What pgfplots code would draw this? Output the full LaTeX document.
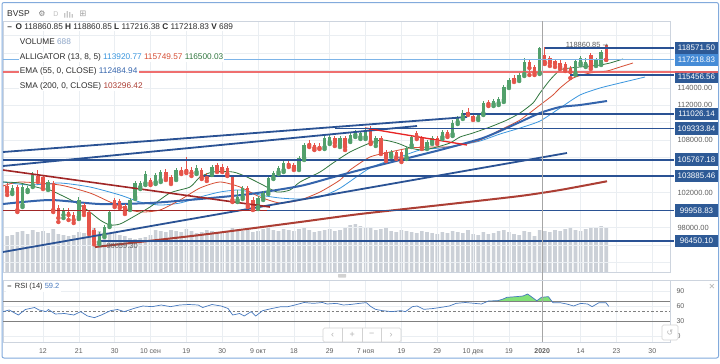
\documentclass[border=0pt]{standalone}
\usepackage{pgfplots}
\pgfplotsset{compat=1.18}
\usepackage{pgfplotstable}
\usepackage{fontspec}
\setmainfont{Liberation Sans}
\newfontfamily\dejavu{DejaVu Sans}

\definecolor{gridc}{RGB}{234,238,242}
\definecolor{bordc}{RGB}{205,212,222}
\definecolor{framec}{RGB}{130,170,220}
\definecolor{volc}{RGB}{203,208,215}
\definecolor{upc}{RGB}{82,160,108}
\definecolor{dnc}{RGB}{230,84,74}
\definecolor{tlc}{RGB}{42,82,148}
\definecolor{boxc}{RGB}{46,90,150}
\definecolor{boxl}{RGB}{70,140,215}
\definecolor{curc}{RGB}{125,180,232}
\definecolor{emac}{RGB}{52,100,172}
\definecolor{smac}{RGB}{172,62,52}
\definecolor{jawc}{RGB}{58,150,222}
\definecolor{teethc}{RGB}{214,78,52}
\definecolor{lipsc}{RGB}{48,118,62}
\definecolor{dredc}{RGB}{160,38,38}
\definecolor{bredc}{RGB}{232,36,36}
\definecolor{pinkc}{RGB}{238,96,96}
\definecolor{txtc}{RGB}{45,45,45}
\definecolor{labc}{RGB}{95,95,95}
\definecolor{volt}{RGB}{140,165,200}
\definecolor{rsic}{RGB}{70,120,190}
\definecolor{rsifill}{RGB}{130,225,120}

\pgfplotstableread{
i o h l c
-6 102064 102866 101834 102522
-4 100573 102981 100344 102637
-3 102293 102751 102064 102522
-2 102866 104356 102637 104012
1 102522 103439 102293 103210
4 99427 100229 99083 99886
7 99198 101490 98968 101147
11 96332 97478 96102 97134
12 97134 98281 96905 98051
13 98281 100000 98051 99771
17 100229 101376 100000 101147
18 101490 103325 101261 103095
19 102637 103325 102408 103095
20 103095 104471 102866 104127
22 103210 104242 102981 104012
23 103439 104586 103210 104356
26 103669 104815 103439 104586
30 104356 105159 104127 104815
33 104242 105159 104012 104930
38 101147 102293 100917 101490
39 101490 102751 101261 102522
42 100344 101605 100115 101376
43 101376 102178 101147 101949
44 102064 103898 101834 103669
45 103783 104471 103554 104242
46 104356 105044 104127 104815
47 104586 105617 104356 105388
50 104815 106191 104586 105961
51 105961 107681 105732 107452
55 107222 108483 106993 108254
56 107795 108598 107566 108369
58 107452 108483 107222 108254
60 108025 108827 107795 108598
61 108598 109171 108369 108942
62 108369 109056 108139 108827
63 108369 109400 108139 109171
65 107681 108483 107337 108254
68 106305 106878 106076 106649
71 106076 107337 105847 107108
72 107452 108598 107222 108369
75 107222 108025 106993 107795
76 107795 108483 107566 108254
78 108369 109171 108139 108942
80 108713 110317 108483 109974
81 110088 110776 109859 110547
82 110661 111464 110432 111120
85 110547 111120 110317 110891
86 111120 112496 110891 112266
88 112152 112725 111922 112496
89 112266 112954 112037 112725
90 112610 114330 112381 114100
91 114215 115132 113986 114903
93 115018 115705 114788 115476
94 115591 117425 115362 116967
97 115705 118650 115591 118572
104 115705 117310 115476 117081
105 116852 117654 116623 117425
106 116623 117425 116393 116967
108 116737 117425 116508 117196
109 116852 118342 116623 118113
}\greentab

\pgfplotstableread{
i o h l c
-7 102751 103095 101720 102064
-5 102637 102866 99771 100000
-1 103898 104586 103210 103439
0 103783 104012 102408 102637
2 103095 103325 99771 100000
3 100229 100573 98625 99083
5 99771 100229 98854 99427
6 99427 99771 98510 98854
8 100573 100803 99427 99771
9 99771 100000 97249 97478
10 97707 97937 96059 96332
14 101147 101376 100344 100573
15 101032 101261 100229 100459
16 100459 100688 99542 99771
21 103439 103669 102866 103095
24 104356 104700 103439 103669
25 103783 104012 102981 103210
27 104586 104930 104127 104356
28 104700 106076 104242 104471
29 104586 104930 103898 104242
31 104586 104815 103554 103783
32 104012 104242 103325 103669
34 105159 105388 104356 104586
35 104930 105273 104356 104586
36 104815 105044 103898 104127
37 103783 104012 100917 101147
40 102522 102751 100344 100573
41 101147 101490 100000 100229
48 105388 105732 104930 105159
49 105159 105388 104586 104815
52 107681 108025 107222 107452
53 107452 107681 106878 107108
54 107337 107681 106993 107108
57 108254 108483 107337 107681
59 108254 108483 106878 107222
64 109400 109630 107566 107795
66 108254 108483 106420 106649
67 106649 106878 105617 105961
69 106649 106878 105847 106076
70 106649 106878 105503 105961
73 108827 109056 108139 108369
74 108254 108483 106993 107222
77 108254 108483 107566 107795
79 108942 109171 108369 108598
83 111235 111693 110891 111005
84 110776 111005 110317 110547
87 112381 112610 111922 112152
92 115132 115476 114674 114903
95 116967 117196 115476 116279
96 116393 116623 115476 115705
98 117769 118686 116737 116967
99 117425 117654 116508 116852
100 117081 117310 116393 116737
101 116852 117196 116164 116393
102 116737 116967 115935 116164
103 116279 116508 115132 115820
107 117769 117998 116164 116393
110 118860.85 118860.85 117216.38 117218.83
}\redtab

\pgfplotstableread{
i v
-7 36
-6 37
-5 40
-4 41
-3 38
-2 42
-1 40
0 41
1 39
2 43
3 38
4 37
5 36
6 37
7 40
8 39
9 42
10 44
11 41
12 40
13 38
14 39
15 37
16 36
17 34
18 33
19 34
20 35
21 37
22 42
23 41
24 40
25 42
26 41
27 40
28 43
29 41
30 39
31 40
32 42
33 41
34 40
35 39
36 41
37 44
38 43
39 41
40 42
41 40
42 41
43 43
44 44
45 42
46 41
47 43
48 42
49 41
50 43
51 44
52 42
53 40
54 41
55 42
56 43
57 41
58 42
59 44
60 47
61 48
62 46
63 44
64 45
65 42
66 43
67 44
68 41
69 40
70 42
71 41
72 40
73 39
74 41
75 40
76 39
77 38
78 40
79 39
80 41
81 40
82 39
83 42
84 38
85 37
86 40
87 38
88 39
89 41
90 42
91 40
92 38
93 37
94 41
95 40
96 36
97 42
98 41
99 40
100 42
101 41
102 43
103 44
104 42
105 41
106 43
107 44
108 45
109 46
110 44
}\voltab

\newcommand{\fs}[1]{\fontsize{#1}{#1}\selectfont}
\pgfplotsset{
  base/.style={scale only axis, width=667bp, xmin=-7.81, xmax=122.46,
    anchor=south west, axis line style={draw=bordc, line width=0.6bp},
    /pgf/number format/assume math mode=true},
}
\tikzset{
  pbox/.style={fill=boxc, text=white, font=\fs{8}, minimum width=44bp, minimum height=12.5bp,
    inner sep=0pt, anchor=west},
}

\begin{document}
\begin{tikzpicture}
\path[use as bounding box, fill=white] (0bp,0bp) rectangle (720bp,-364bp);

% ---------- volume ----------
\begin{axis}[base, at={(3bp,-272bp)}, height=251bp, ymin=0, ymax=251, hide axis,
  ybar, bar width=3.6bp]
\addplot[fill=volc, draw=none] table[x=i,y=v]{\voltab};
\end{axis}

% ---------- price ----------
\begin{axis}[base, at={(3bp,-272bp)}, height=251bp, ymin=92894.4, ymax=121666.6, clip=false,
  xtick={0,7,14,21,28,35,42,49,56,63,70,77,84,91,97.5,105,112,119},
  xticklabels={,,,,,,,,,,,,,,,,,}, xtick style={draw=none}, ytick style={draw=none},
  scaled y ticks=false,
  ytick={94000,96000,98000,100000,102000,104000,106000,108000,110000,112000,114000,116000,118000,120000},
  yticklabels={,,98000.00,,102000.00,,,108000.00,,112000.00,114000.00,,,},
  yticklabel pos=right,
  yticklabel style={font=\fs{7.5}, text=labc, xshift=4bp},
  grid=major, major grid style={draw=gridc, line width=0.6bp}]

% alligator
\addplot[jawc, line width=0.8bp, smooth, tension=0.4] coordinates {(-7.81,103210) (-2.54,102866) (3.32,103095) (9.18,102637) (15.04,101720) (18.95,100917) (22.85,100573) (26.76,100803) (30.66,101490) (34.57,102064) (38.48,102293) (42.38,101720) (46.29,101376) (50.20,101261) (54.10,101490) (58.01,102500) (63.87,104815) (69.73,106076) (73.63,106878) (77.54,107108) (81.45,107452) (85.35,107910) (89.26,108713) (93.16,109400) (97.07,110203) (100.98,111693) (104.88,113183) (108.79,113986) (112.70,114559) (117.58,115247)};
\addplot[teethc, line width=0.8bp, smooth, tension=0.4] coordinates {(-7.81,102751) (-4.49,103210) (3.32,102866) (9.18,101949) (13.09,100917) (16.99,100000) (19.53,99771) (22.85,100000) (26.76,101147) (30.66,102522) (34.57,103210) (38.48,102637) (42.38,101490) (46.29,100803) (50.20,101147) (54.10,102064) (58.01,103439) (59.96,104586) (63.87,106076) (67.77,106649) (71.68,107108) (75.59,107222) (79.49,107222) (81.45,107452) (85.35,108025) (89.26,109171) (93.16,110317) (97.07,112037) (99.61,113183) (100.98,113986) (103.52,115132) (106.84,115705) (110.16,115935) (112.70,116393) (115.23,116852)};
\addplot[lipsc, line width=0.8bp, smooth, tension=0.4] coordinates {(-7.81,103210) (-4.49,103095) (-0.59,102522) (1.37,102293) (4.69,101376) (7.23,100573) (9.18,99771) (11.13,98854) (13.09,98281) (15.04,98395) (17.58,99198) (20.90,100344) (24.80,101949) (28.71,102637) (30.66,103783) (33.20,104356) (37.11,104356) (39.84,103783) (42.97,102866) (45.70,102064) (48.24,102293) (50.20,103210) (54.10,104356) (56.64,105388) (59.96,106649) (63.87,107681) (66.41,108025) (69.14,107681) (71.68,107108) (74.22,106878) (76.95,107222) (79.49,107681) (81.45,108369) (83.98,108827) (87.30,109515) (90.63,110317) (93.16,111120) (95.70,112266) (97.07,113416) (99.02,114903) (100.98,116049) (102.93,116279) (104.88,116393) (106.84,116508) (108.79,116623) (110.74,116852) (113.28,117310)};
% EMA 55 and SMA 200
\addplot[emac, line width=2bp, smooth, tension=0.4] coordinates {(-7.81,100688) (1.37,101147) (11.13,100688) (20.90,100803) (30.66,101261) (40.43,101834) (50.20,102751) (56.05,103669) (61.91,104586) (69.73,105732) (77.54,106878) (85.35,108139) (89.26,109056) (93.16,110088) (97.07,111120) (100.98,111808) (104.88,112037) (110.16,112496)};
\addplot[smac, line width=2bp, smooth, tension=0.4] coordinates {(10.16,95759) (30.66,97134) (50.20,98625) (61.91,99542) (79.49,100688) (93.16,101605) (100.98,102293) (110.16,103296)};

% candles: wicks then bodies
\addplot[upc, only marks, mark=none, forget plot,
  error bars/.cd, y dir=plus, y explicit, error mark=none,
  error bar style={color=upc, line width=0.8bp}]
  table[x=i, y=l, y error plus expr=\thisrow{h}-\thisrow{l}]{\greentab};
\addplot[upc, only marks, mark=none, forget plot,
  error bars/.cd, y dir=plus, y explicit, error mark=none,
  error bar style={color=upc, line width=3.4bp}]
  table[x=i, y=o, y error plus expr=\thisrow{c}-\thisrow{o}]{\greentab};
\addplot[dnc, only marks, mark=none, forget plot,
  error bars/.cd, y dir=plus, y explicit, error mark=none,
  error bar style={color=dnc, line width=0.8bp}]
  table[x=i, y=l, y error plus expr=\thisrow{h}-\thisrow{l}]{\redtab};
\addplot[dnc, only marks, mark=none, forget plot,
  error bars/.cd, y dir=plus, y explicit, error mark=none,
  error bar style={color=dnc, line width=3.4bp}]
  table[x=i, y=c, y error plus expr=\thisrow{o}-\thisrow{c}]{\redtab};

% current price
\addplot[curc, line width=0.8bp] coordinates {(-7.81,117218.83) (123.3,117218.83)};

% trend lines
\addplot[tlc, line width=1.8bp] coordinates {(-7.81,106649) (82.81,110661)};
\addplot[tlc, line width=1.8bp] coordinates {(-7.81,105044) (73.05,109630)};
\addplot[tlc, line width=1.8bp] coordinates {(-7.81,95187) (102.34,106536)};
\addplot[dredc, line width=1.6bp] coordinates {(-7.81,104586) (44.34,100344)};
\addplot[bredc, line width=1.3bp] coordinates {(62.89,109400) (82.81,107452)};
% horizontal levels
\addplot[tlc, line width=1.6bp] coordinates {(98.05,118571.50) (123.3,118571.50)};
\addplot[tlc, line width=1.6bp] coordinates {(102.93,115456.56) (123.3,115456.56)};
\addplot[tlc, line width=1.6bp] coordinates {(82.03,111026.14) (123.3,111026.14)};
\addplot[tlc, line width=1.6bp] coordinates {(57.03,109333.84) (123.3,109333.84)};
\addplot[tlc, line width=1.6bp] coordinates {(-7.81,105767.18) (123.3,105767.18)};
\addplot[tlc, line width=1.6bp] coordinates {(30.66,103885.46) (123.3,103885.46)};
\addplot[tlc, line width=1.6bp] coordinates {(-7.81,99958.83) (123.3,99958.83)};
\addplot[dredc, line width=1.6bp] coordinates {(-7.81,99958.83) (43.75,99958.83)};
\addplot[tlc, line width=1.6bp] coordinates {(11.13,96450.10) (123.3,96450.10)};

% price boxes
\node[pbox] at (axis cs:123.3,118571.50) {118571.50};
\node[pbox, fill=boxl] at (axis cs:123.3,117218.83) {117218.83};
\node[pbox, yshift=-1.6bp] at (axis cs:123.3,115456.56) {115456.56};
\node[pbox] at (axis cs:123.3,111026.14) {111026.14};
\node[pbox] at (axis cs:123.3,109333.84) {109333.84};
\node[pbox] at (axis cs:123.3,105767.18) {105767.18};
\node[pbox] at (axis cs:123.3,103885.46) {103885.46};
\node[pbox] at (axis cs:123.3,99958.83) {99958.83};
\node[pbox] at (axis cs:123.3,96450.10) {96450.10};
\addplot[pinkc, line width=2bp, opacity=0.9] coordinates {(-7.81,115800) (131.8,115800)};

% annotations
\node[anchor=east, font=\fs{7.5}, text=labc, inner sep=0pt] at (axis cs:110.4,118930) {118860.85 {\dejavu\fs{6.5}→}};
\node[anchor=west, font=\fs{7.5}, text=labc, inner sep=0pt] at (axis cs:10.9,95875) {{\dejavu\fs{6.5}←} 96059.30};
\end{axis}

% ---------- RSI ----------
\begin{axis}[base, at={(3bp,-342bp)}, height=62bp, ymin=-12, ymax=112, clip=false,
  xtick={0,7,14,21,28,35,42,49,56,63,70,77,84,91,97.5,105,112,119},
  xticklabels={12,21,30,10 сен,19,30,9 окт,18,29,7 ноя,19,29,10 дек,19,\textbf{2020},14,23,30},
  xticklabel style={font=\fs{7}, text=labc, yshift=-3bp},
  ytick={0,30,60,90}, yticklabel pos=right,
  yticklabel style={font=\fs{7}, text=labc, xshift=3bp},
  tick style={draw=none},
  grid=major, major grid style={draw=gridc, line width=0.6bp}]
\addplot[fill=rsifill, draw=none] coordinates {(87.0,70) (88.8,70.7) (89.7,73.3) (90.6,77.3) (92.4,78.7) (93.75,80) (94.65,84) (95.55,77.3) (96.45,70.5) (97.35,77.3) (98.7,78.7) (99.35,70)} -- cycle;
\addplot[gray, line width=0.8bp] coordinates {(-7.81,70) (122.46,70)};
\addplot[gray, line width=0.8bp] coordinates {(-7.81,30) (122.46,30)};
\addplot[gray, line width=0.8bp, dash pattern=on 2.5bp off 2bp] coordinates {(-7.81,50) (122.46,50)};
\addplot[rsic, line width=0.7bp] coordinates {(-7.8,48.7) (-6.6,52) (-4.8,42) (-3.45,53) (-1.65,57) (-0.75,52) (0.6,48.7) (1.05,53) (2.4,44) (4.2,45) (6.0,42) (7.35,48.7) (8.7,40) (10.05,36.7) (11.4,42) (13.2,50.7) (14.55,53) (15.9,48.7) (17.7,55) (19.5,60) (21.3,58.7) (23.1,62) (24.9,58.7) (26.7,62) (28.5,63) (30.3,62) (31.2,57) (33.0,63) (34.8,60) (36.15,55) (37.05,42) (38.4,45) (39.3,40) (40.65,48.7) (41.55,40) (42.9,50.7) (44.7,55) (46.5,58.7) (47.85,58.7) (49.2,62) (51.0,67) (52.8,65.3) (54.6,67) (55.5,64) (57.3,65.3) (58.65,62) (60.0,63) (61.8,65.3) (63.15,66.7) (64.05,58.7) (64.95,53.3) (66.3,50.7) (68.1,48.7) (69.9,50.7) (70.8,48.7) (72.15,58.7) (73.05,60) (74.4,53.3) (76.2,55) (77.55,57) (79.35,60) (80.7,65.3) (82.5,67) (84.3,65.3) (85.65,64) (87.0,70) (88.8,70.7) (89.7,73.3) (90.6,77.3) (92.4,78.7) (93.75,80) (94.65,84) (95.55,77.3) (96.45,70.5) (97.35,77.3) (98.7,78.7) (99.6,66.7) (100.95,66.7) (102.3,64) (103.65,60) (105.0,65.3) (106.35,64) (107.25,58.7) (108.6,66.7) (109.95,66.7) (110.5,59.2)};
\end{axis}

% crosshair
\draw[gray!70, line width=0.6bp] (542.2bp,-21bp) -- (542.2bp,-342bp);

% header
\node[anchor=west, font=\fs{8.5}, text=txtc, inner sep=0pt] at (7bp,-14bp) {BVSP};
\node[anchor=center, font=\dejavu\fs{8}, text=gray, inner sep=0pt] at (42bp,-14bp) {⚙};
\node[anchor=center, font=\fs{7}, text=gray!50, inner sep=0pt] at (56bp,-14.5bp) {D};
\fill[gray!45] (64bp,-17.5bp) rectangle (65.3bp,-13bp) (66.5bp,-17.5bp) rectangle (67.8bp,-11bp) (69bp,-17.5bp) rectangle (70.3bp,-12bp) (71.5bp,-17.5bp) rectangle (72.8bp,-14bp);
\node[anchor=center, font=\dejavu\fs{8.5}, text=gray!70, inner sep=0pt] at (83bp,-13.5bp) {⊞};

% legends
\begin{scope}[every node/.style={anchor=west, fill=white, inner sep=1.2bp, font=\fs{8.3}, text=txtc}]
\node at (6bp,-27bp) {\textbf{–}\, \textbf{O} 118860.85 \textbf{H} 118860.85 \textbf{L} 117216.38 \textbf{C} 117218.83 \textbf{V} 689};
\node at (18.5bp,-42bp) {VOLUME {\color{volt}688}};
\node at (18.5bp,-57bp) {ALLIGATOR (13, 8, 5) {\color{jawc}113920.77} {\color{teethc}115749.57} {\color{lipsc}116500.03}};
\node at (18.5bp,-71bp) {EMA (55, 0, CLOSE) {\color{emac}112484.94}};
\node at (18.5bp,-86bp) {SMA (200, 0, CLOSE) {\color{smac}103296.42}};
\node[font=\fs{7.5}] at (6bp,-287bp) {\textbf{–}\, RSI (14) {\color{rsic}59.2}};
\end{scope}
\node[font=\dejavu\fs{8}, text=gray!60] at (712bp,-287bp) {✕};

% separator handle
\fill[gray!35, rounded corners=0.5bp] (338bp,-274bp) rectangle (346bp,-277.5bp);
\draw[bordc, line width=0.6bp] (3bp,-280bp) -- (718bp,-280bp);

% navigation buttons
\draw[gray!35, fill=white, rounded corners=1.5bp, line width=0.6bp] (323bp,-328bp) rectangle (401bp,-342bp);
\draw[gray!35, line width=0.6bp] (342.5bp,-328bp) -- (342.5bp,-342bp) (362bp,-328bp) -- (362bp,-342bp) (381.5bp,-328bp) -- (381.5bp,-342bp);
\node[font=\fs{9}, text=gray!60] at (332.7bp,-335bp) {‹};
\node[font=\fs{9}, text=gray!60] at (352.2bp,-335bp) {+};
\node[font=\fs{9}, text=gray!60] at (371.7bp,-335bp) {−};
\node[font=\fs{9}, text=gray!60] at (391.2bp,-335bp) {›};
\draw[gray!35, fill=white, rounded corners=1.5bp, line width=0.6bp] (662bp,-325bp) rectangle (678bp,-340bp);
\node[font=\dejavu\fs{8}, text=gray!60] at (670bp,-332.5bp) {↺};

% outer frame
\draw[framec, line width=1bp, rounded corners=2bp] (2bp,-2.5bp) rectangle (718.5bp,-358bp);
\end{tikzpicture}
\end{document}
